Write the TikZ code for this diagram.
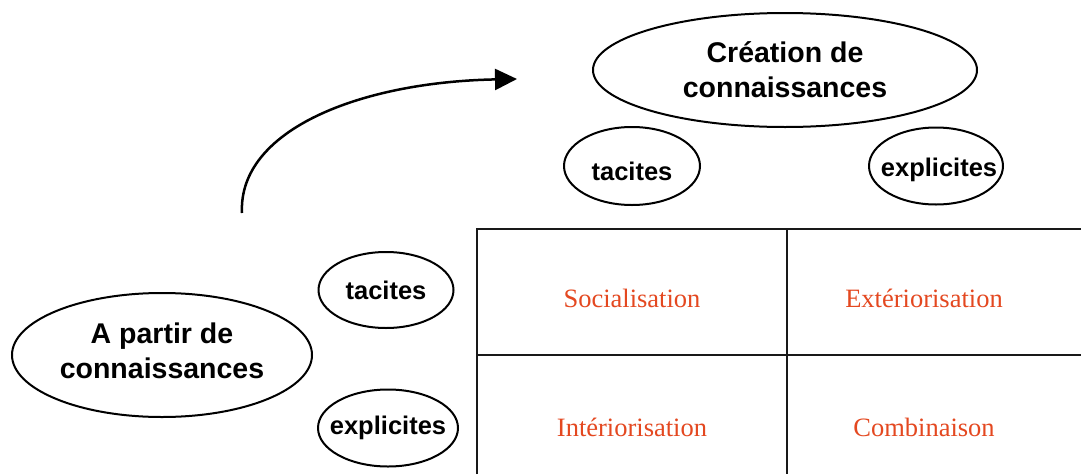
\documentclass[tikz,border=0pt]{standalone}
\usepackage{fontspec}
\setmainfont{Liberation Serif}
\newfontfamily\labelfont{Liberation Sans}
\usetikzlibrary{shapes.geometric,arrows.meta}
\definecolor{modecol}{RGB}{228,72,32}
\tikzset{
  oval/.style={draw, ellipse, line width=2pt, inner sep=0pt},
  bigtext/.style={font=\labelfont\bfseries\fontsize{28.5}{35}\selectfont, align=center},
  smalltext/.style={font=\labelfont\bfseries\fontsize{25.5}{30}\selectfont},
  mode/.style={font=\fontsize{26.5}{30}\selectfont, text=modecol},
  gridline/.style={line width=2.5pt, draw=black!90},
  flow/.style={line width=2.5pt, -{Triangle[length=22pt,width=21pt]}}
}
\begin{document}
\begin{tikzpicture}[x=1pt,y=-1pt]
\useasboundingbox (0,0) rectangle (1081,474);
\fill[white] (0,0) rectangle (1081,474);
% top ellipses
\node[oval, bigtext, minimum width=384pt, minimum height=114pt] (creation) at (785,70) {Création de\\connaissances};
\node[oval, smalltext, minimum width=136pt, minimum height=78pt] (tacT) at (632,166) {\makebox[0pt]{\raisebox{-5pt}[\height][\depth]{tacites}}};
\node[oval, smalltext, minimum width=134pt, minimum height=77pt] (expT) at (936,166) {\makebox[0pt]{\hspace*{6pt}\raisebox{-4pt}[\height][\depth]{explicites}}};
% left ellipses
\node[oval, bigtext, minimum width=300pt, minimum height=124pt] (partir) at (162,355) {\raisebox{1pt}[\height][\depth]{\begin{tabular}{@{}c@{}}A partir de\\connaissances\end{tabular}}};
\node[oval, smalltext, minimum width=135pt, minimum height=76pt] (tacL) at (386,290) {\makebox[0pt]{tacites}};
\node[oval, smalltext, minimum width=140pt, minimum height=77pt] (expL) at (388,428) {\makebox[0pt]{explicites}};
% grid
\coordinate (gTL) at (477,229);
\coordinate (gTR) at (1081,229);
\coordinate (gML) at (477,355);
\coordinate (gMR) at (1081,355);
\coordinate (gBL) at (477,474);
\coordinate (gMT) at (787,229);
\coordinate (gMB) at (787,474);
\draw[gridline] (gBL) -- (gTL) -- (gTR);
\draw[gridline] (gML) -- (gMR);
\draw[gridline] (gMT) -- (gMB);
\node[mode] (soc) at (632,298) {Socialisation};
\node[mode] (ext) at (924,298) {Extériorisation};
\node[mode] (int) at (632,427) {Intériorisation};
\node[mode] (com) at (924,427) {Combinaison};
% arrow
\coordinate (arrS) at (242,213);
\coordinate (arrE) at (517,79);
\draw[flow] (arrS) .. controls (238,130) and (360,82) .. (arrE);
\end{tikzpicture}
\end{document}
